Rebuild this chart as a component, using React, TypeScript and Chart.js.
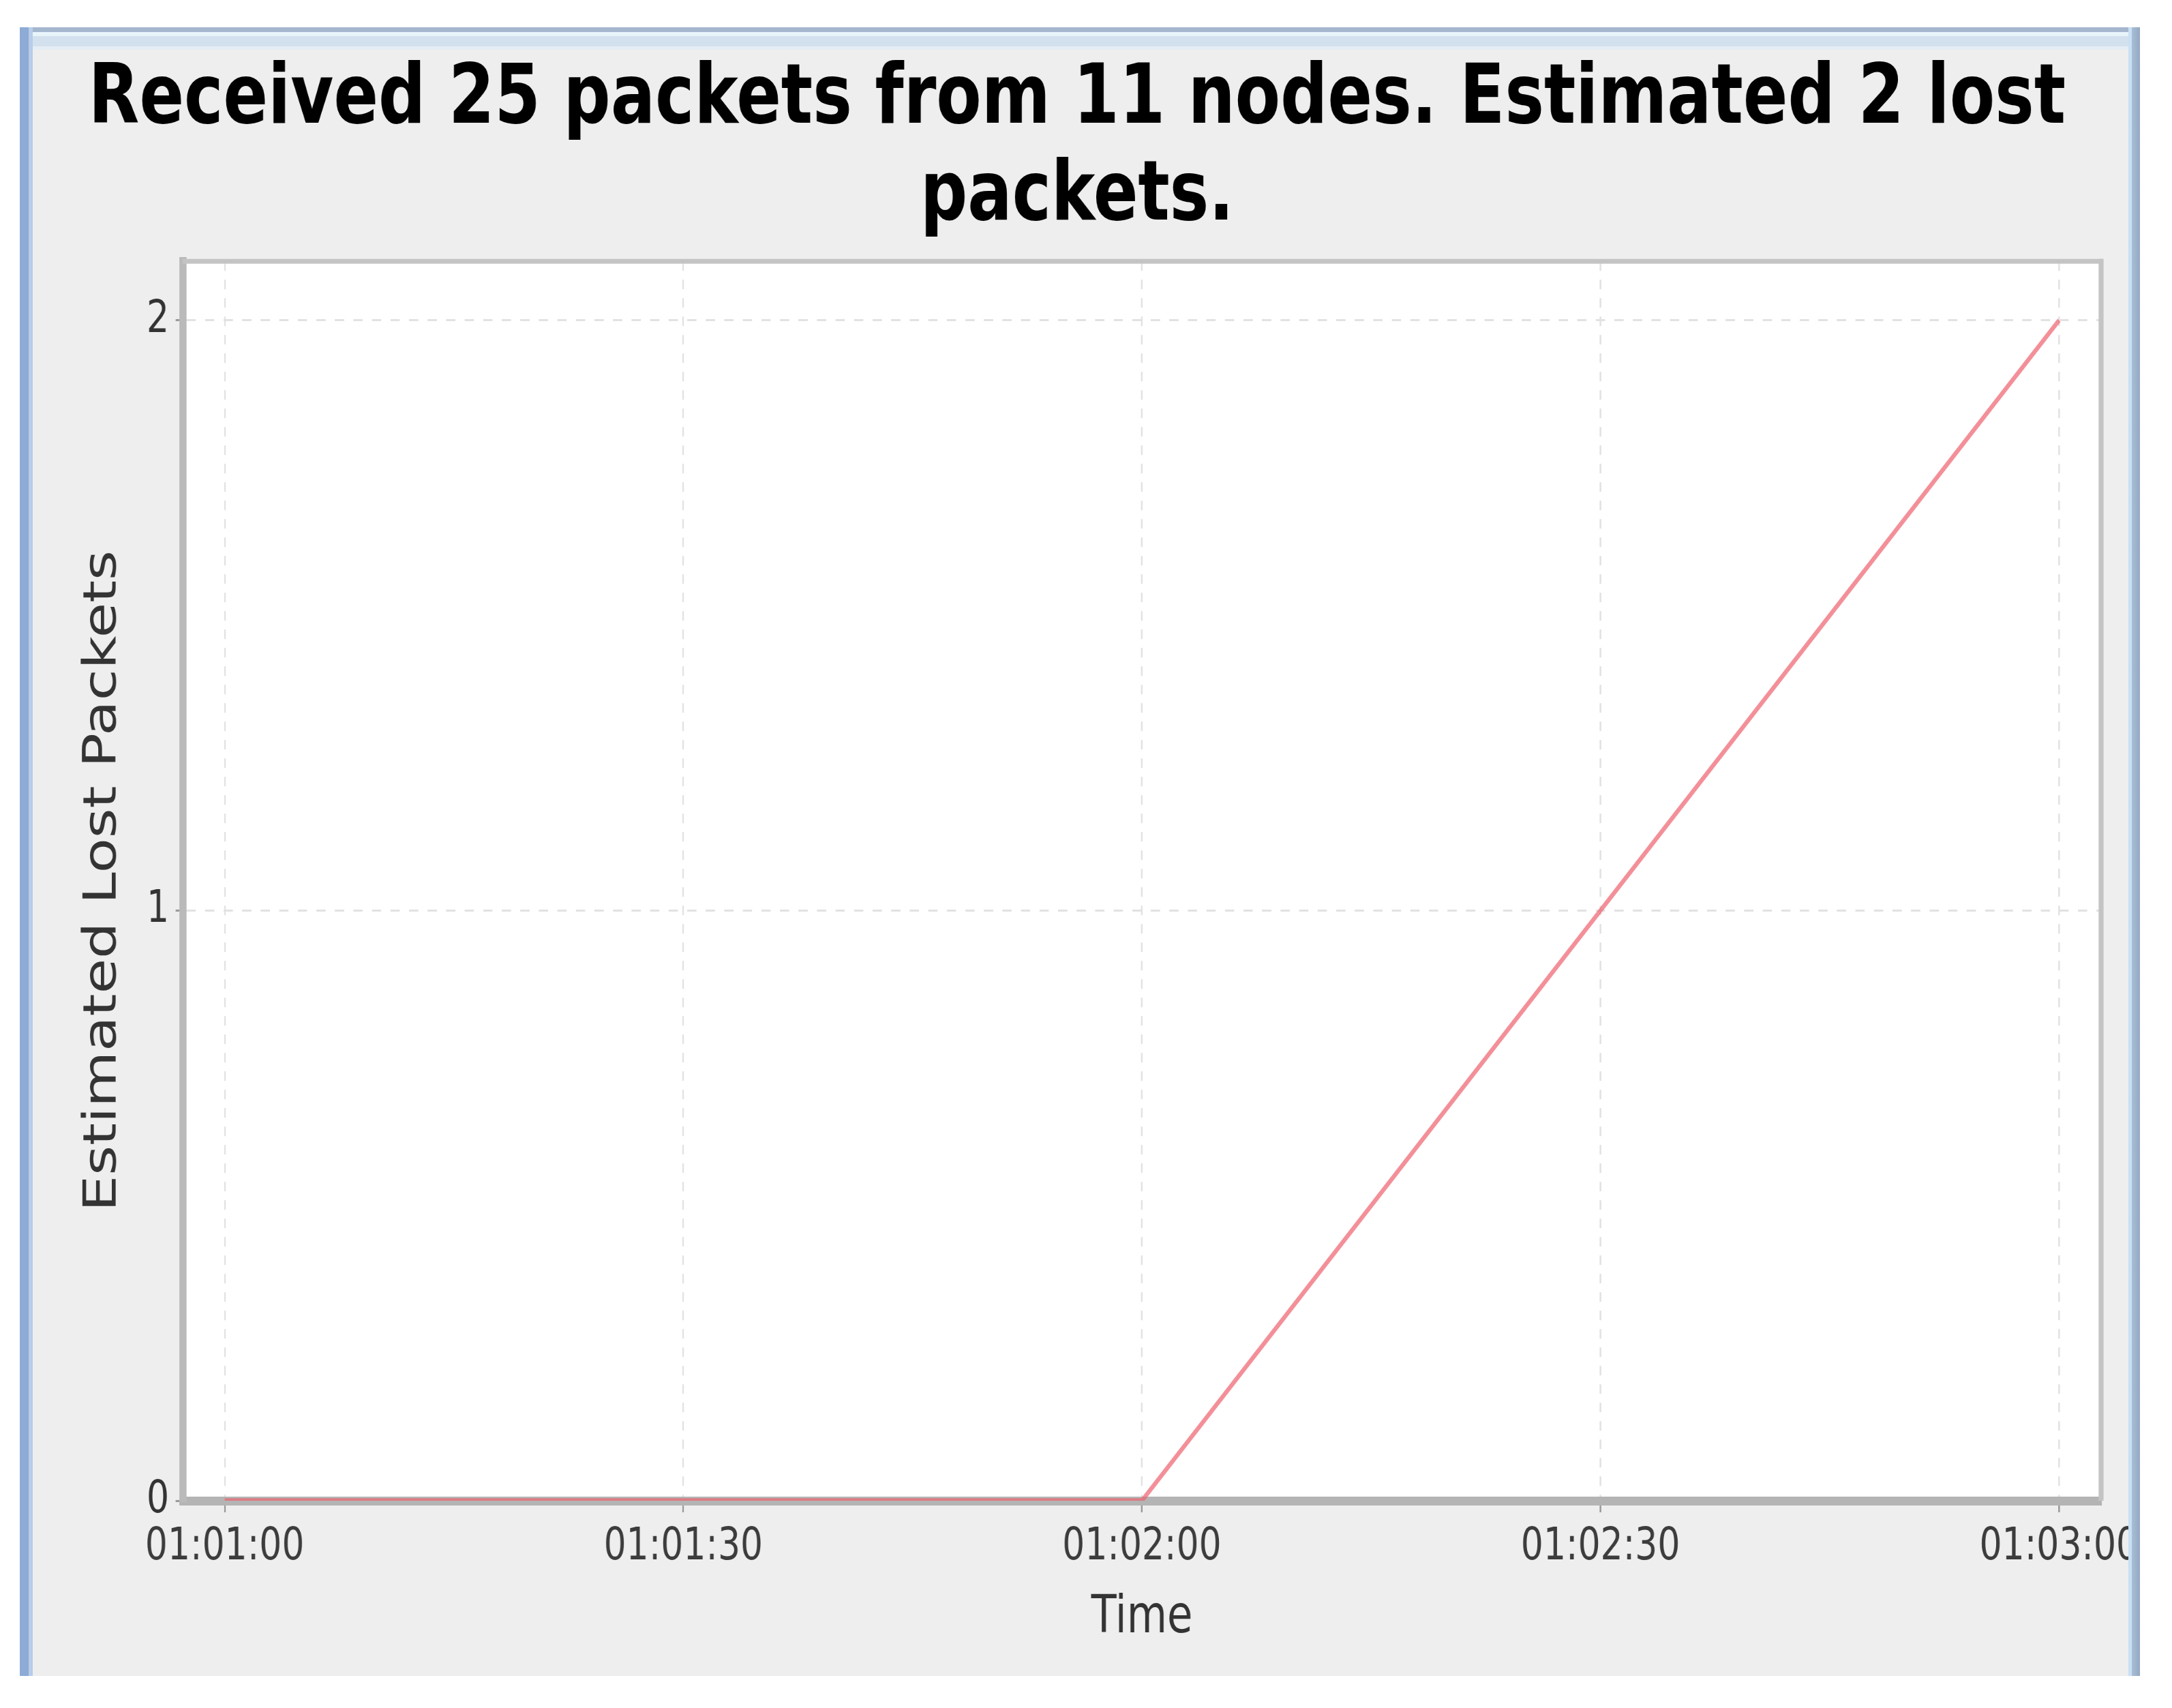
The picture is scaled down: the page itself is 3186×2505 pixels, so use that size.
import React, { useEffect, useRef } from "react";
import { Chart, registerables } from "chart.js";

Chart.register(...registerables);

// ---- data ----
const sampleTimes = ["01:01:00", "01:02:00", "01:03:00"];
const lostPackets = [0, 0, 2];
const xTickLabels = ["01:01:00", "01:01:30", "01:02:00", "01:02:30", "01:03:00"];
const yTickValues = [0, 1, 2];
const xAxisRange = ["01:00:57.25", "01:03:02.75"];
const yAxisRange = [0, 2.1];
const titleLines = ["Received 25 packets from 11 nodes. Estimated 2 lost", "packets."];
const xAxisTitle = "Time";
const yAxisTitle = "Estimated Lost Packets";

// ---- layout / style ----
const FONT = "'DejaVu Sans', sans-serif";
const SQUEEZE = 0.8;
const CANVAS_W = 3950;
const CANVAS_H = 2505;

const toSeconds = (t: string) => {
  const [h, m, s] = t.split(":");
  return Number(h) * 3600 + Number(m) * 60 + Number(s);
};

export default function App() {
  const ref = useRef<HTMLCanvasElement>(null);

  useEffect(() => {
    document.body.style.overflow = "hidden";
    const canvas = ref.current;
    if (!canvas) return;

    const plotFrame = {
      id: "plotFrame",
      beforeDraw(chart: any) {
        const { ctx, chartArea: a } = chart;
        ctx.save();
        ctx.fillStyle = "#ffffff";
        ctx.fillRect(a.left, a.top, a.right - a.left, a.bottom - a.top);
        ctx.restore();
      },
      beforeDatasetsDraw(chart: any) {
        const { ctx, chartArea: a } = chart;
        ctx.save();
        ctx.strokeStyle = "#c4c4c4";
        ctx.lineWidth = 7;
        ctx.beginPath();
        ctx.moveTo(a.left, a.top);
        ctx.lineTo(a.right + 4.5, a.top);
        ctx.stroke();
        ctx.lineWidth = 9;
        ctx.beginPath();
        ctx.moveTo(a.right, a.top - 3.5);
        ctx.lineTo(a.right, a.bottom);
        ctx.stroke();
        ctx.restore();
      },
    };

    const chart = new Chart(canvas, {
      type: "line",
      data: {
        datasets: [
          {
            label: yAxisTitle,
            data: sampleTimes.map((t, i) => ({ x: toSeconds(t), y: lostPackets[i] })),
            borderColor: "rgba(238,96,108,0.7)",
            backgroundColor: "rgba(238,96,108,0.7)",
            borderWidth: 7,
            pointRadius: 0,
            tension: 0,
            fill: false,
          },
        ],
      },
      options: {
        animation: false,
        responsive: false,
        maintainAspectRatio: false,
        devicePixelRatio: 1,
        layout: { padding: { left: 97.5, right: 97.5, top: 0, bottom: 0 } },
        plugins: {
          legend: { display: false },
          tooltip: { enabled: false },
          title: {
            display: true,
            text: titleLines,
            color: "#000000",
            font: { family: FONT, size: 121, weight: "bold", lineHeight: 1.175 },
            padding: { top: 77, bottom: 21.8 },
          },
        },
        scales: {
          x: {
            type: "linear",
            position: "bottom",
            min: toSeconds(xAxisRange[0]),
            max: toSeconds(xAxisRange[1]),
            afterBuildTicks: (s: any) => {
              s.ticks = xTickLabels.map((l) => ({ value: toSeconds(l) }));
            },
            afterFit: (s: any) => {
              s.height = 304;
            },
            ticks: {
              callback: (_v: any, i: number) => xTickLabels[i],
              font: { family: FONT, size: 65 },
              color: "#3c3c3c",
              padding: 13,
              maxRotation: 0,
              autoSkip: false,
            },
            grid: {
              color: "#e2e2e2",
              lineWidth: 3,
              drawTicks: true,
              tickLength: 17,
              tickColor: "#9a9a9a",
              tickWidth: 3,
              tickBorderDash: [],
              borderDash: [14, 13],
            },
            border: { display: true, color: "#b4b4b4", width: 13, dash: [14, 13] },
            title: {
              display: true,
              text: xAxisTitle,
              color: "#333333",
              font: { family: FONT, size: 76 },
              padding: { top: 0, bottom: 85 },
            },
          },
          y: {
            type: "linear",
            position: "left",
            min: yAxisRange[0],
            max: yAxisRange[1],
            afterBuildTicks: (s: any) => {
              s.ticks = yTickValues.map((v) => ({ value: v }));
            },
            afterFit: (s: any) => {
              s.width = 237.5;
            },
            ticks: {
              callback: (v: any) => String(v),
              font: { family: FONT, size: 65 },
              color: "#333333",
              padding: 12,
            },
            grid: {
              color: "#e2e2e2",
              lineWidth: 3,
              drawTicks: true,
              tickLength: 13,
              tickColor: "#9a9a9a",
              tickWidth: 3,
              tickBorderDash: [],
              borderDash: [17, 17],
            },
            border: { display: true, color: "#bababa", width: 13, dash: [17, 17] },
            title: {
              display: true,
              text: yAxisTitle,
              color: "#333333",
              font: { family: FONT, size: 84 },
              padding: { top: 42, bottom: 0 },
            },
          },
        },
      } as any,
      plugins: [plotFrame],
    });

    return () => chart.destroy();
  }, []);

  const fixed: React.CSSProperties = { position: "fixed", pointerEvents: "none" };

  return (
    <div>
      {/* window frame background */}
      <div style={{ ...fixed, left: 29, top: 40, width: 3110, height: 2418, background: "#eeeeee", zIndex: 0 }} />
      {/* chart canvas, horizontally squeezed like the reference screenshot */}
      <div
        style={{
          ...fixed,
          left: 0,
          top: 0,
          width: CANVAS_W,
          height: CANVAS_H,
          transform: `scaleX(${SQUEEZE})`,
          transformOrigin: "0 0",
          zIndex: 1,
        }}
      >
        <canvas ref={ref} width={CANVAS_W} height={CANVAS_H} style={{ display: "block" }} />
      </div>
      {/* window frame borders */}
      <div
        style={{
          ...fixed,
          left: 29,
          top: 40,
          width: 3110,
          height: 33,
          zIndex: 2,
          background:
            "linear-gradient(to bottom, #a5b7ce 0px, #a5b7ce 7px, #e8f4fa 7px, #e8f4fa 13px, #d3e1ee 13px, #d3e1ee 28px, #e4edf5 28px, #e4edf5 33px)",
        }}
      />
      <div
        style={{
          ...fixed,
          left: 29,
          top: 40,
          width: 19,
          height: 2418,
          zIndex: 3,
          background: "linear-gradient(to right, #8dabd5 0px, #8dabd5 13px, #b7cde8 13px, #b7cde8 19px)",
        }}
      />
      <div
        style={{
          ...fixed,
          left: 3122,
          top: 40,
          width: 17,
          height: 2418,
          zIndex: 3,
          background: "linear-gradient(to right, #c9e0f5 0px, #c9e0f5 5px, #a9bed5 5px, #93a9c3 17px)",
        }}
      />
    </div>
  );
}
